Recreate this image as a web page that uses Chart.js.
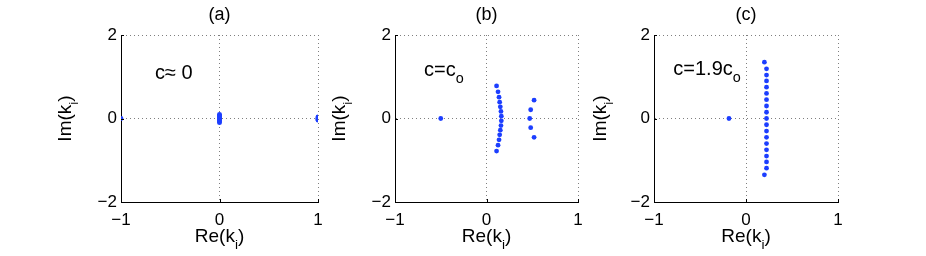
<!DOCTYPE html>
<html>
<head>
<meta charset="utf-8">
<script src="https://cdn.jsdelivr.net/npm/chart.js@4/dist/chart.umd.min.js"></script>
<style>
html, body { margin: 0; padding: 0; background: #fff; }
#wrap { position: relative; width: 926px; height: 256px; overflow: hidden; background: #fff; }
#wrap canvas { position: absolute; top: 0; }
</style>
</head>
<body>
<div id="wrap">
	<canvas id="panel-a" width="340" height="256" style="left:0px"></canvas>
	<canvas id="panel-b" width="300" height="256" style="left:310px"></canvas>
	<canvas id="panel-c" width="356" height="256" style="left:570px"></canvas>
</div>
<script>
// axis ticks (same for all three panels)
var xTicks = [-1, 0, 1];
var yTicks = [-2, 0, 2];

// (a) c ~ 0 : roots bunched at -1, 0 and 1
var aRe = [-1, 0, 0, 0, 0, 0, 0, 0, 0, 0, 1, 1, 1, 1, 1];
var aIm = [0, -0.1, -0.075, -0.05, -0.025, 0, 0.025, 0.05, 0.075, 0.1, -0.04, -0.02, 0, 0.02, 0.04];

// (b) c = c_o
var bRe = [-0.5,
	0.11, 0.126, 0.137, 0.144, 0.151, 0.158, 0.162, 0.162, 0.158, 0.151, 0.144, 0.137, 0.126, 0.11,
	0.52, 0.483, 0.472, 0.483, 0.52];
var bIm = [0,
	0.78, 0.64, 0.51, 0.39, 0.28, 0.17, 0.055, -0.055, -0.17, -0.28, -0.39, -0.51, -0.64, -0.78,
	0.44, 0.21, 0, -0.22, -0.45];

// (c) c = 1.9 c_o
var cRe = [-0.185,
	0.2, 0.223, 0.223, 0.223, 0.223, 0.223, 0.223, 0.223, 0.223, 0.223,
	0.223, 0.223, 0.223, 0.223, 0.223, 0.223, 0.223, 0.223, 0.2];
var cIm = [0,
	1.35, 1.19, 1.04, 0.9, 0.75, 0.6, 0.45, 0.3, 0.15, 0,
	-0.15, -0.3, -0.45, -0.6, -0.75, -0.9, -1.04, -1.19, -1.35];

var FONT = '"Liberation Sans", Arial, Helvetica, sans-serif';
var BLUE = 'rgb(28, 62, 255)';

function fmt(v) {
	return v < 0 ? '\u2212' + Math.abs(v) : String(v);
}

// draws text made of [text, isSubscript] parts, baseline at y
function drawRich(ctx, parts, x, y, size, align) {
	var widths = parts.map(function(p) {
		ctx.font = (p[1] ? size * 0.72 : size) + 'px ' + FONT;
		return ctx.measureText(p[0]).width;
	});
	var total = widths.reduce(function(a, b) { return a + b; }, 0);
	var cx = align === 'center' ? x - total / 2 : x;
	ctx.textAlign = 'left';
	ctx.textBaseline = 'alphabetic';
	parts.forEach(function(p, i) {
		ctx.font = (p[1] ? size * 0.72 : size) + 'px ' + FONT;
		ctx.fillText(p[0], cx, p[1] ? y + size * 0.35 : y);
		cx += widths[i];
	});
}

function makePanel(id, re, im, opt) {
	var canvas = document.getElementById(id);
	var points = re.map(function(r, i) { return { x: r, y: im[i] }; });

	var decor = {
		id: 'decor',
		afterDraw: function(chart) {
			var ctx = chart.ctx;
			var area = chart.chartArea;
			var xs = chart.scales.x, ys = chart.scales.y;
			ctx.save();
			ctx.fillStyle = '#000';

			// inward tick marks on left and bottom axes
			ctx.strokeStyle = '#000';
			ctx.lineWidth = 1;
			ctx.beginPath();
			yTicks.forEach(function(v) {
				var py = Math.round(ys.getPixelForValue(v)) + 0.5;
				ctx.moveTo(area.left, py);
				ctx.lineTo(area.left + 3, py);
			});
			xTicks.forEach(function(v) {
				var px = Math.round(xs.getPixelForValue(v)) + 0.5;
				ctx.moveTo(px, area.bottom);
				ctx.lineTo(px, area.bottom - 3);
			});
			ctx.stroke();

			// panel title
			ctx.font = '18px ' + FONT;
			ctx.textAlign = 'center';
			ctx.textBaseline = 'middle';
			ctx.fillText(opt.title, (area.left + area.right) / 2, 15);

			// x axis title
			drawRich(ctx, [['Re(k', false], ['i', true], [')', false]],
				(area.left + area.right) / 2, area.bottom + 40, 19, 'center');

			// y axis title, rotated
			ctx.save();
			ctx.translate(area.left - opt.yTitleOffset, (area.top + area.bottom) / 2);
			ctx.rotate(-Math.PI / 2);
			drawRich(ctx, [['Im(k', false], ['i', true], [')', false]], 0, 0, 19, 'center');
			ctx.restore();

			// annotation
			drawRich(ctx, opt.note, xs.getPixelForValue(opt.noteAt[0]),
				ys.getPixelForValue(opt.noteAt[1]), 20, 'left');
			ctx.restore();
		}
	};

	new Chart(canvas, {
		type: 'scatter',
		data: {
			datasets: [{
				data: points,
				backgroundColor: BLUE,
				borderColor: BLUE,
				borderWidth: 0,
				pointRadius: 2.4,
			}],
		},
		options: {
			responsive: false,
			animation: false,
			events: [],
			layout: { padding: { top: 35, right: opt.rightPad, left: 0, bottom: 0 } },
			plugins: {
				legend: { display: false },
				tooltip: { enabled: false },
			},
			scales: {
				x: {
					type: 'linear',
					min: xTicks[0], max: xTicks[xTicks.length - 1],
					afterBuildTicks: function(s) { s.ticks = xTicks.map(function(v) { return { value: v }; }); },
					afterFit: function(s) { s.height = 54; },
					ticks: { padding: 8, color: '#000', font: { family: FONT, size: 17 }, callback: fmt, maxRotation: 0 },
					grid: { drawTicks: false, color: 'rgba(0,0,0,0.5)', lineWidth: 1 },
					border: { display: true, color: '#000', width: 1, dash: [1, 3] },
				},
				y: {
					type: 'linear',
					min: yTicks[0], max: yTicks[yTicks.length - 1],
					afterBuildTicks: function(s) { s.ticks = yTicks.map(function(v) { return { value: v }; }); },
					afterFit: function(s) { s.width = opt.yWidth; },
					ticks: { padding: 4, color: '#000', font: { family: FONT, size: 17 }, callback: fmt },
					grid: { drawTicks: false, color: 'rgba(0,0,0,0.5)', lineWidth: 1 },
					border: { display: true, color: '#000', width: 1, dash: [1, 3] },
				},
			},
		},
		plugins: [decor],
	});
}

document.addEventListener('DOMContentLoaded', function() {
	makePanel('panel-a', aRe, aIm, {
		title: '(a)', yWidth: 121, rightPad: 22, yTitleOffset: 50,
		note: [['c\u2248 0', false]], noteAt: [-0.655, 0.946],
	});
	makePanel('panel-b', bRe, bIm, {
		title: '(b)', yWidth: 85, rightPad: 32, yTitleOffset: 50,
		note: [['c=c', false], ['o', true]], noteAt: [-0.683, 1.02],
	});
	makePanel('panel-c', cRe, cIm, {
		title: '(c)', yWidth: 84, rightPad: 88, yTitleOffset: 48,
		note: [['c=1.9c', false], ['o', true]], noteAt: [-0.79, 1.04],
	});
});
</script>
</body>
</html>
